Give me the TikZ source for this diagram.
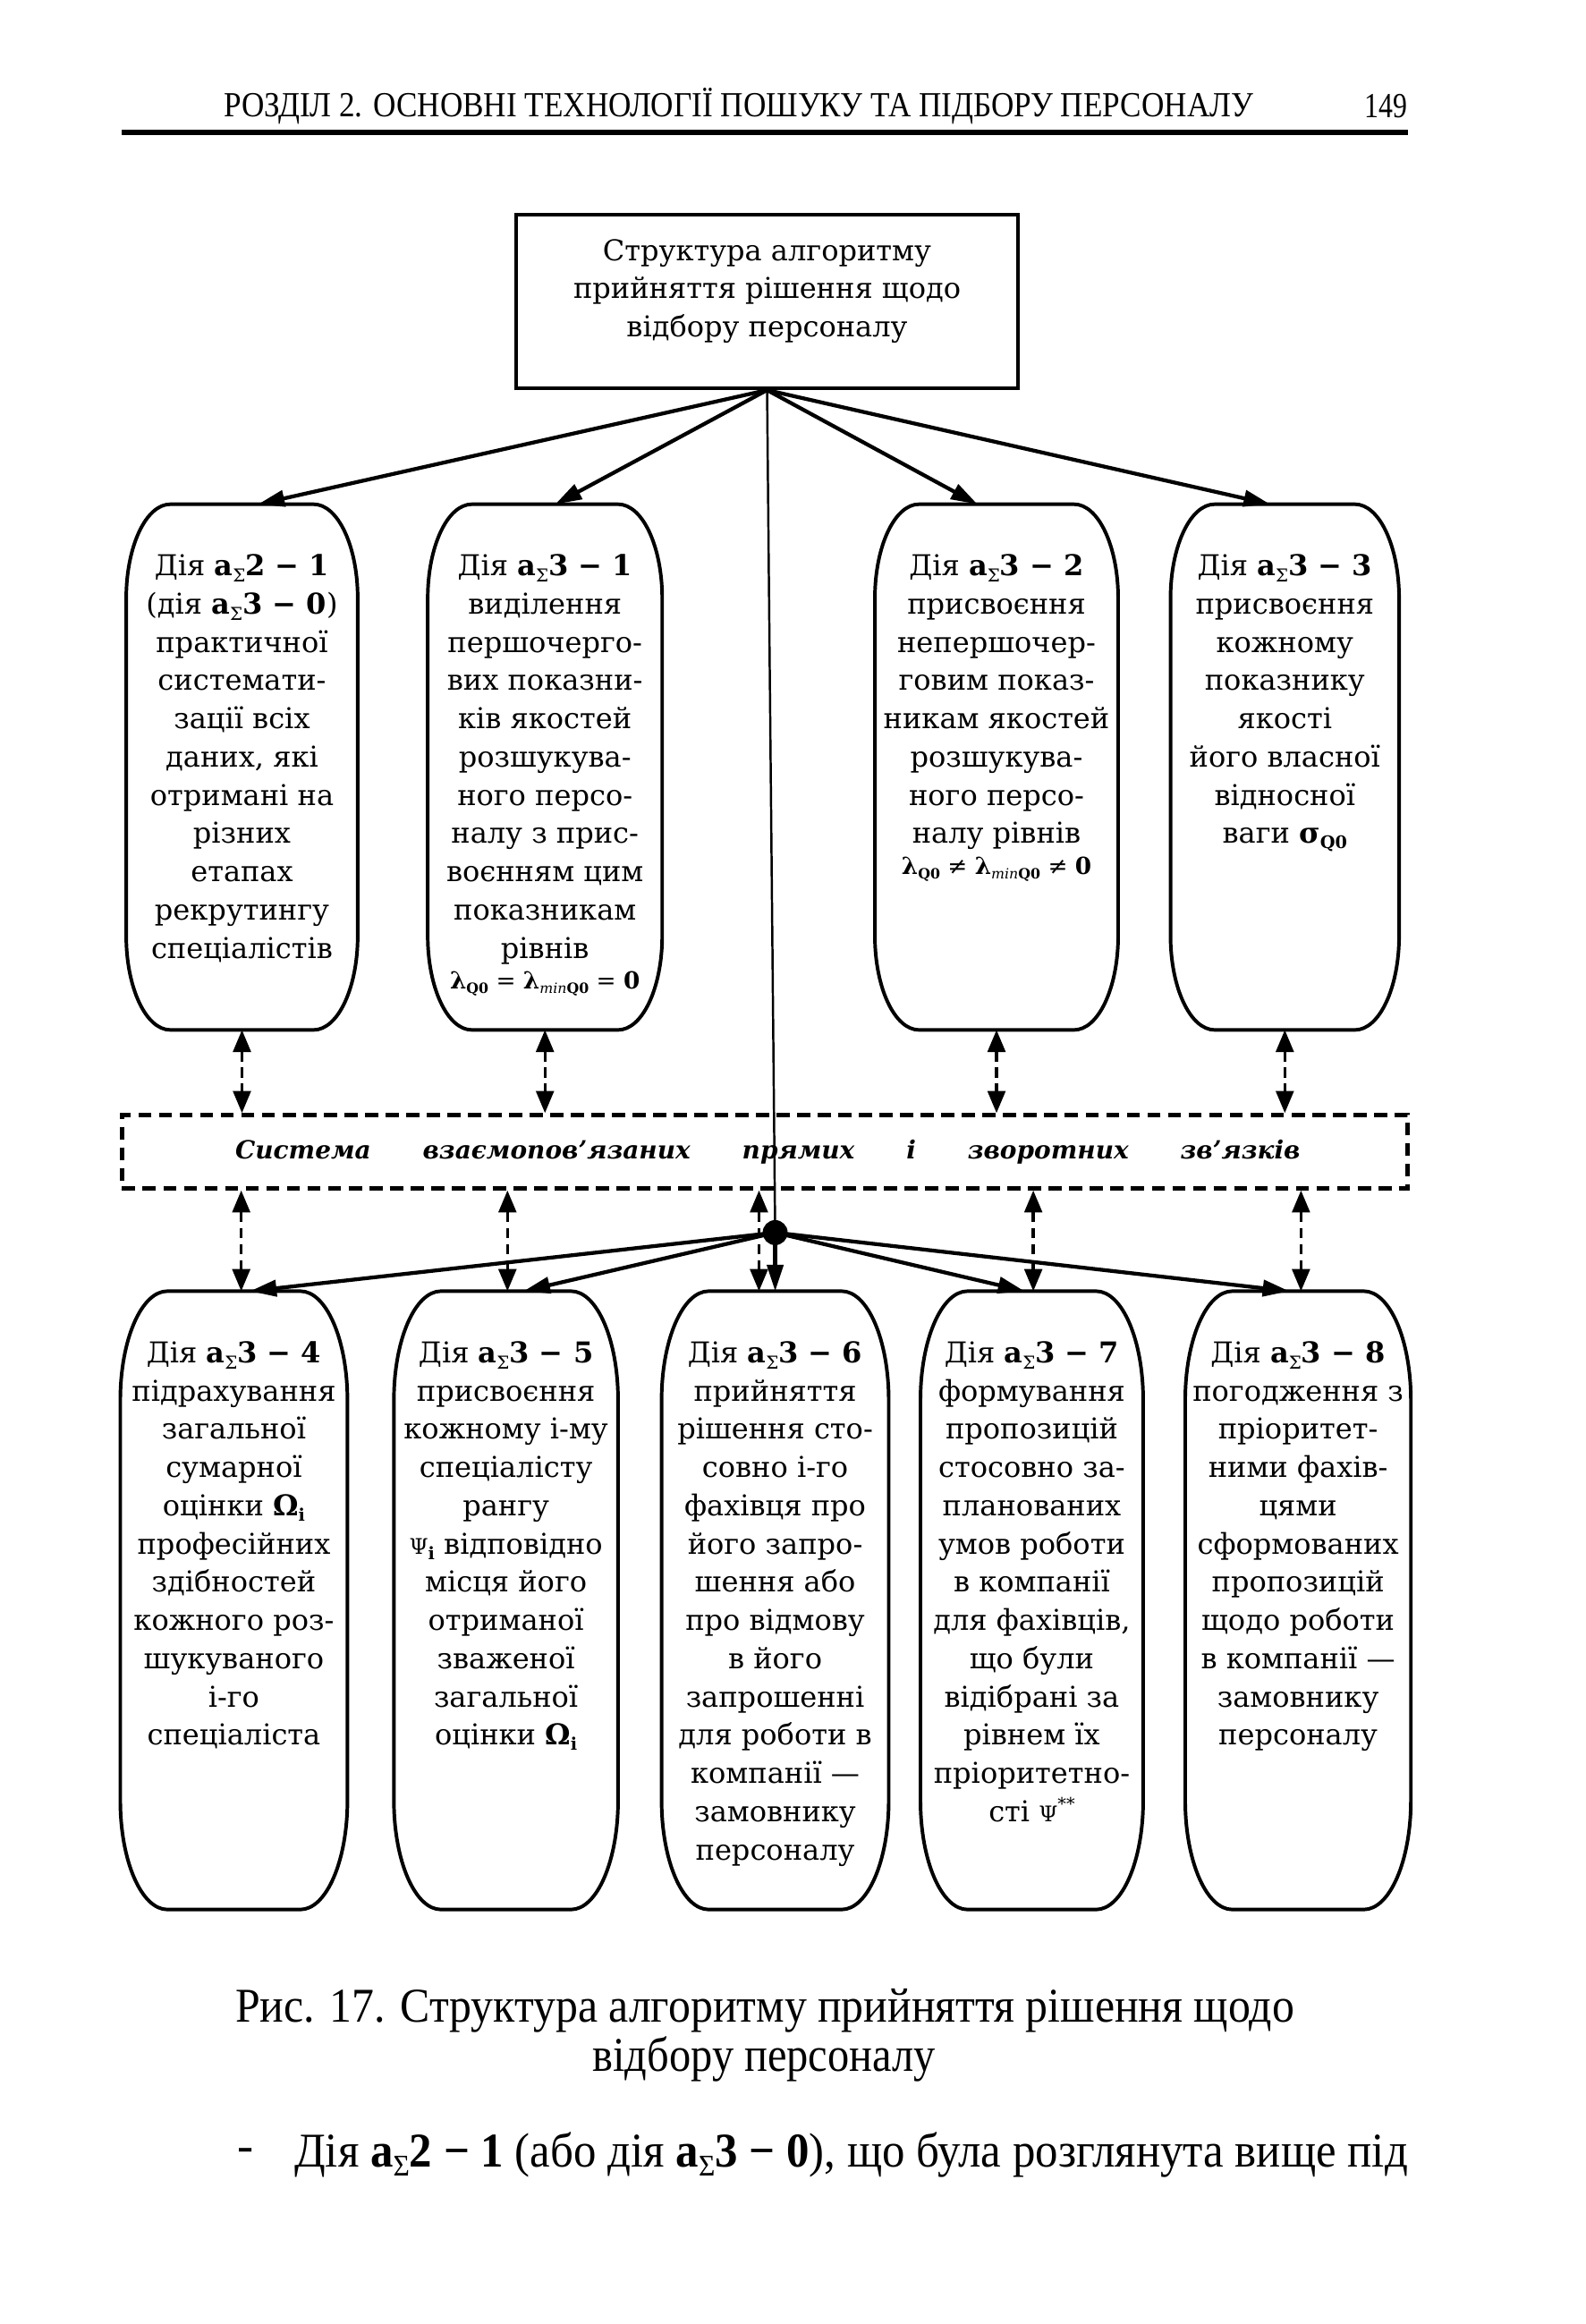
\documentclass[tikz,border=0pt]{standalone}
\usepackage{graphicx}
\usepackage{fontspec}
\setmainfont{DejaVu Serif}
\newfontfamily\tms{Liberation Serif}
\usetikzlibrary{arrows.meta,calc}
\newsavebox\fitbox
\newlength\fitlen
\newcommand{\fitw}[2]{\sbox\fitbox{#2}\setlength\fitlen{\wd\fitbox}\pgfmathsetmacro\fitr{#1/\fitlen}\scalebox{\fitr}[1]{\usebox\fitbox}}
\newcommand{\asig}[1]{\textbf{a}\raisebox{-0.4ex}{\scalebox{0.62}{Σ}}\textbf{#1}}
\newcommand{\lowidx}[1]{\raisebox{-0.35ex}{\scalebox{0.6}{#1}}}
\newcommand{\barrel}[7]{%
 \node[inner sep=0, minimum width={(#4-#2)*1pt}, minimum height={(#5-#3)*1pt}] (#1) at ({(#2+#4)/2},{(#3+#5)/2}) {};
 \draw[boxline] ($(#1.north west)+(#6pt,0)$) -- ($(#1.north east)+(-#6pt,0)$)
   arc[start angle=90,end angle=0,x radius=#6pt,y radius=#7pt]
   -- ($(#1.south east)+(0,#7pt)$)
   arc[start angle=0,end angle=-90,x radius=#6pt,y radius=#7pt]
   -- ($(#1.south west)+(#6pt,0)$)
   arc[start angle=270,end angle=180,x radius=#6pt,y radius=#7pt]
   -- ($(#1.north west)+(0,-#7pt)$)
   arc[start angle=180,end angle=90,x radius=#6pt,y radius=#7pt] -- cycle;
}
\begin{document}
\begin{tikzpicture}[x=1pt,y=-1pt,
 boxline/.style={line width=2.4pt},
 arr/.style={line width=2.6pt, -{Triangle[length=18pt,width=11pt]}},
 darr/.style={line width=2pt, dash pattern=on 7pt off 4pt, {Triangle[length=15pt,width=12pt]}-{Triangle[length=15pt,width=12pt]}},
 boxtext/.style={inner sep=0, align=center, font=\fontsize{19.5}{26}\selectfont}]
\fill[white] (0,0) rectangle (1078,1580);
\useasboundingbox (0,0) rectangle (1078,1580);

% header
\node[anchor=west, inner sep=0] (hdr) at (152,72) {\tms\fontsize{24}{24}\selectfont\fitw{700}{РОЗДІЛ 2. ОСНОВНІ ТЕХНОЛОГІЇ ПОШУКУ ТА ПІДБОРУ ПЕРСОНАЛУ}};
\node[anchor=east, inner sep=0] (pg) at (957,72) {\tms\fontsize{24}{24}\selectfont\fitw{29}{149}};
\draw[line width=3.2pt] (83,90) -- (957,90);

% top box
\node[draw, line width=2.4pt, minimum width=341pt, minimum height=118pt, inner sep=0] (top) at (521.5,205) {};
\node[boxtext] (toptxt) at (521.5,198) {Структура алгоритму\\прийняття рішення щодо\\відбору персоналу};

% top row
\barrel{t1}{86}{343}{243}{700}{30}{64}
\barrel{t2}{291}{343}{450}{700}{30}{64}
\barrel{t3}{595}{343}{760}{700}{30}{64}
\barrel{t4}{796}{343}{951}{700}{30}{64}

\node[boxtext, anchor=north] (t1txt) at ([yshift=-34pt]t1.north) {Дія \asig{2 − 1}\\(дія \asig{3 − 0})\\практичної\\системати-\\зації всіх\\даних, які\\отримані на\\різних\\етапах\\рекрутингу\\спеціалістів};
\node[boxtext, anchor=north] (t2txt) at ([yshift=-34pt]t2.north) {Дія \asig{3 − 1}\\виділення\\першочерго-\\вих показни-\\ків якостей\\розшукува-\\ного персо-\\налу з прис-\\воєнням цим\\показникам\\рівнів\\[-5pt]{\fontsize{16}{16}\selectfont\textbf{λ}\lowidx{\textbf{Q0}} = \textbf{λ}\lowidx{\textit{min}\textbf{Q0}} = \textbf{0}}};
\node[boxtext, anchor=north] (t3txt) at ([yshift=-34pt]t3.north) {Дія \asig{3 − 2}\\присвоєння\\непершочер-\\говим показ-\\никам якостей\\розшукува-\\ного персо-\\налу рівнів\\[-5pt]{\fontsize{16}{16}\selectfont\textbf{λ}\lowidx{\textbf{Q0}} ≠ \textbf{λ}\lowidx{\textit{min}\textbf{Q0}} ≠ \textbf{0}}};
\node[boxtext, anchor=north] (t4txt) at ([yshift=-34pt]t4.north) {Дія \asig{3 − 3}\\присвоєння\\кожному\\показнику\\якості\\його власної\\відносної\\ваги \textbf{σ}\lowidx{\textbf{Q0}}};

% dashed system box
\node[draw, dash pattern=on 9pt off 5pt, line width=2.6pt, minimum width=874pt, minimum height=50pt, inner sep=0] (dbox) at (520,783) {};
\node[inner sep=0, font=\fontsize{17}{17}\selectfont\bfseries\itshape] (dtxt) at (522,783) {\hbox to 724pt{Система\hfill взаємопов’язаних\hfill прямих\hfill і\hfill зворотних\hfill зв’язків}};

% bottom row
\barrel{b1}{82}{878}{236}{1298}{32}{74}
\barrel{b2}{268}{878}{420}{1298}{32}{74}
\barrel{b3}{450}{878}{604}{1298}{32}{74}
\barrel{b4}{626}{878}{777}{1298}{32}{74}
\barrel{b5}{806}{878}{959}{1298}{32}{74}

\node[boxtext, anchor=north] (b1txt) at ([yshift=-34pt]b1.north) {Дія \asig{3 − 4}\\підрахування\\загальної\\сумарної\\оцінки \textbf{Ω}\lowidx{\textbf{i}}\\професійних\\здібностей\\кожного роз-\\шукуваного\\і-го\\спеціаліста};
\node[boxtext, anchor=north] (b2txt) at ([yshift=-34pt]b2.north) {Дія \asig{3 − 5}\\присвоєння\\кожному і-му\\спеціалісту\\рангу\\\scalebox{0.75}{Ψ}\lowidx{\textbf{i}} відповідно\\місця його\\отриманої\\зваженої\\загальної\\оцінки \textbf{Ω}\lowidx{\textbf{i}}};
\node[boxtext, anchor=north] (b3txt) at ([yshift=-34pt]b3.north) {Дія \asig{3 − 6}\\прийняття\\рішення сто-\\совно і-го\\фахівця про\\його запро-\\шення або\\про відмову\\в його\\запрошенні\\для роботи в\\компанії —\\замовнику\\персоналу};
\node[boxtext, anchor=north] (b4txt) at ([yshift=-34pt]b4.north) {Дія \asig{3 − 7}\\формування\\пропозицій\\стосовно за-\\планованих\\умов роботи\\в компанії\\для фахівців,\\що були\\відібрані за\\рівнем їх\\пріоритетно-\\сті \scalebox{0.75}{Ψ}\raisebox{0.8ex}{\scalebox{0.6}{**}}};
\node[boxtext, anchor=north] (b5txt) at ([yshift=-34pt]b5.north) {Дія \asig{3 − 8}\\погодження з\\пріоритет-\\ними фахів-\\цями\\сформованих\\пропозицій\\щодо роботи\\в компанії —\\замовнику\\персоналу};

% hub
\node[circle, fill=black, inner sep=0, minimum size=17pt] (hub) at (527,838) {};

% connectors from top box
\draw[arr] (top.south) -- ([xshift=11pt]t1.north);
\draw[arr] (top.south) -- ([xshift=7pt]t2.north);
\draw[arr] (top.south) -- ([xshift=-13pt]t3.north);
\draw[arr] (top.south) -- ([xshift=-10pt]t4.north);
\draw[line width=1.5pt] (top.south) -- (hub.center);

% dashed links top row
\draw[darr] (t1.south) -- (t1.south |- dbox.north);
\draw[darr] (t2.south) -- (t2.south |- dbox.north);
\draw[darr] (t3.south) -- (t3.south |- dbox.north);
\draw[darr] (t4.south) -- (t4.south |- dbox.north);

% dashed links bottom row
\draw[darr] ([xshift=5pt]b1.north |- dbox.south) -- ([xshift=5pt]b1.north);
\draw[darr] ([xshift=1pt]b2.north |- dbox.south) -- ([xshift=1pt]b2.north);
\draw[darr] ([xshift=-11pt]b3.north |- dbox.south) -- ([xshift=-11pt]b3.north);
\draw[darr] ([xshift=1pt]b4.north |- dbox.south) -- ([xshift=1pt]b4.north);
\draw[darr] ([xshift=2pt]b5.north |- dbox.south) -- ([xshift=2pt]b5.north);

% hub arrows
\draw[arr] (hub.center) -- ([xshift=11pt]b1.north);
\draw[arr] (hub.center) -- ([xshift=12pt]b2.north);
\draw[arr] (hub.center) -- (b3.north);
\draw[arr] (hub.center) -- ([xshift=-5pt]b4.north);
\draw[arr] (hub.center) -- ([xshift=-6pt]b5.north);

% caption
\node[inner sep=0] (cap1) at (520,1367) {\tms\fontsize{33}{33}\selectfont\fitw{720}{Рис. 17. Структура алгоритму прийняття рішення щодо}};
\node[inner sep=0] (cap2) at (519.5,1400) {\tms\fontsize{33}{33}\selectfont\fitw{233}{відбору персоналу}};
\node[anchor=west, inner sep=0] (bul) at (161,1465) {\tms\fontsize{33}{33}\selectfont -};
\node[anchor=west, inner sep=0] (txtline) at (200,1465) {\tms\fontsize{33}{33}\selectfont\fitw{757}{Дія \asig{2 − 1} (або дія \asig{3 − 0}), що була розглянута вище під}};
\end{tikzpicture}
\end{document}
